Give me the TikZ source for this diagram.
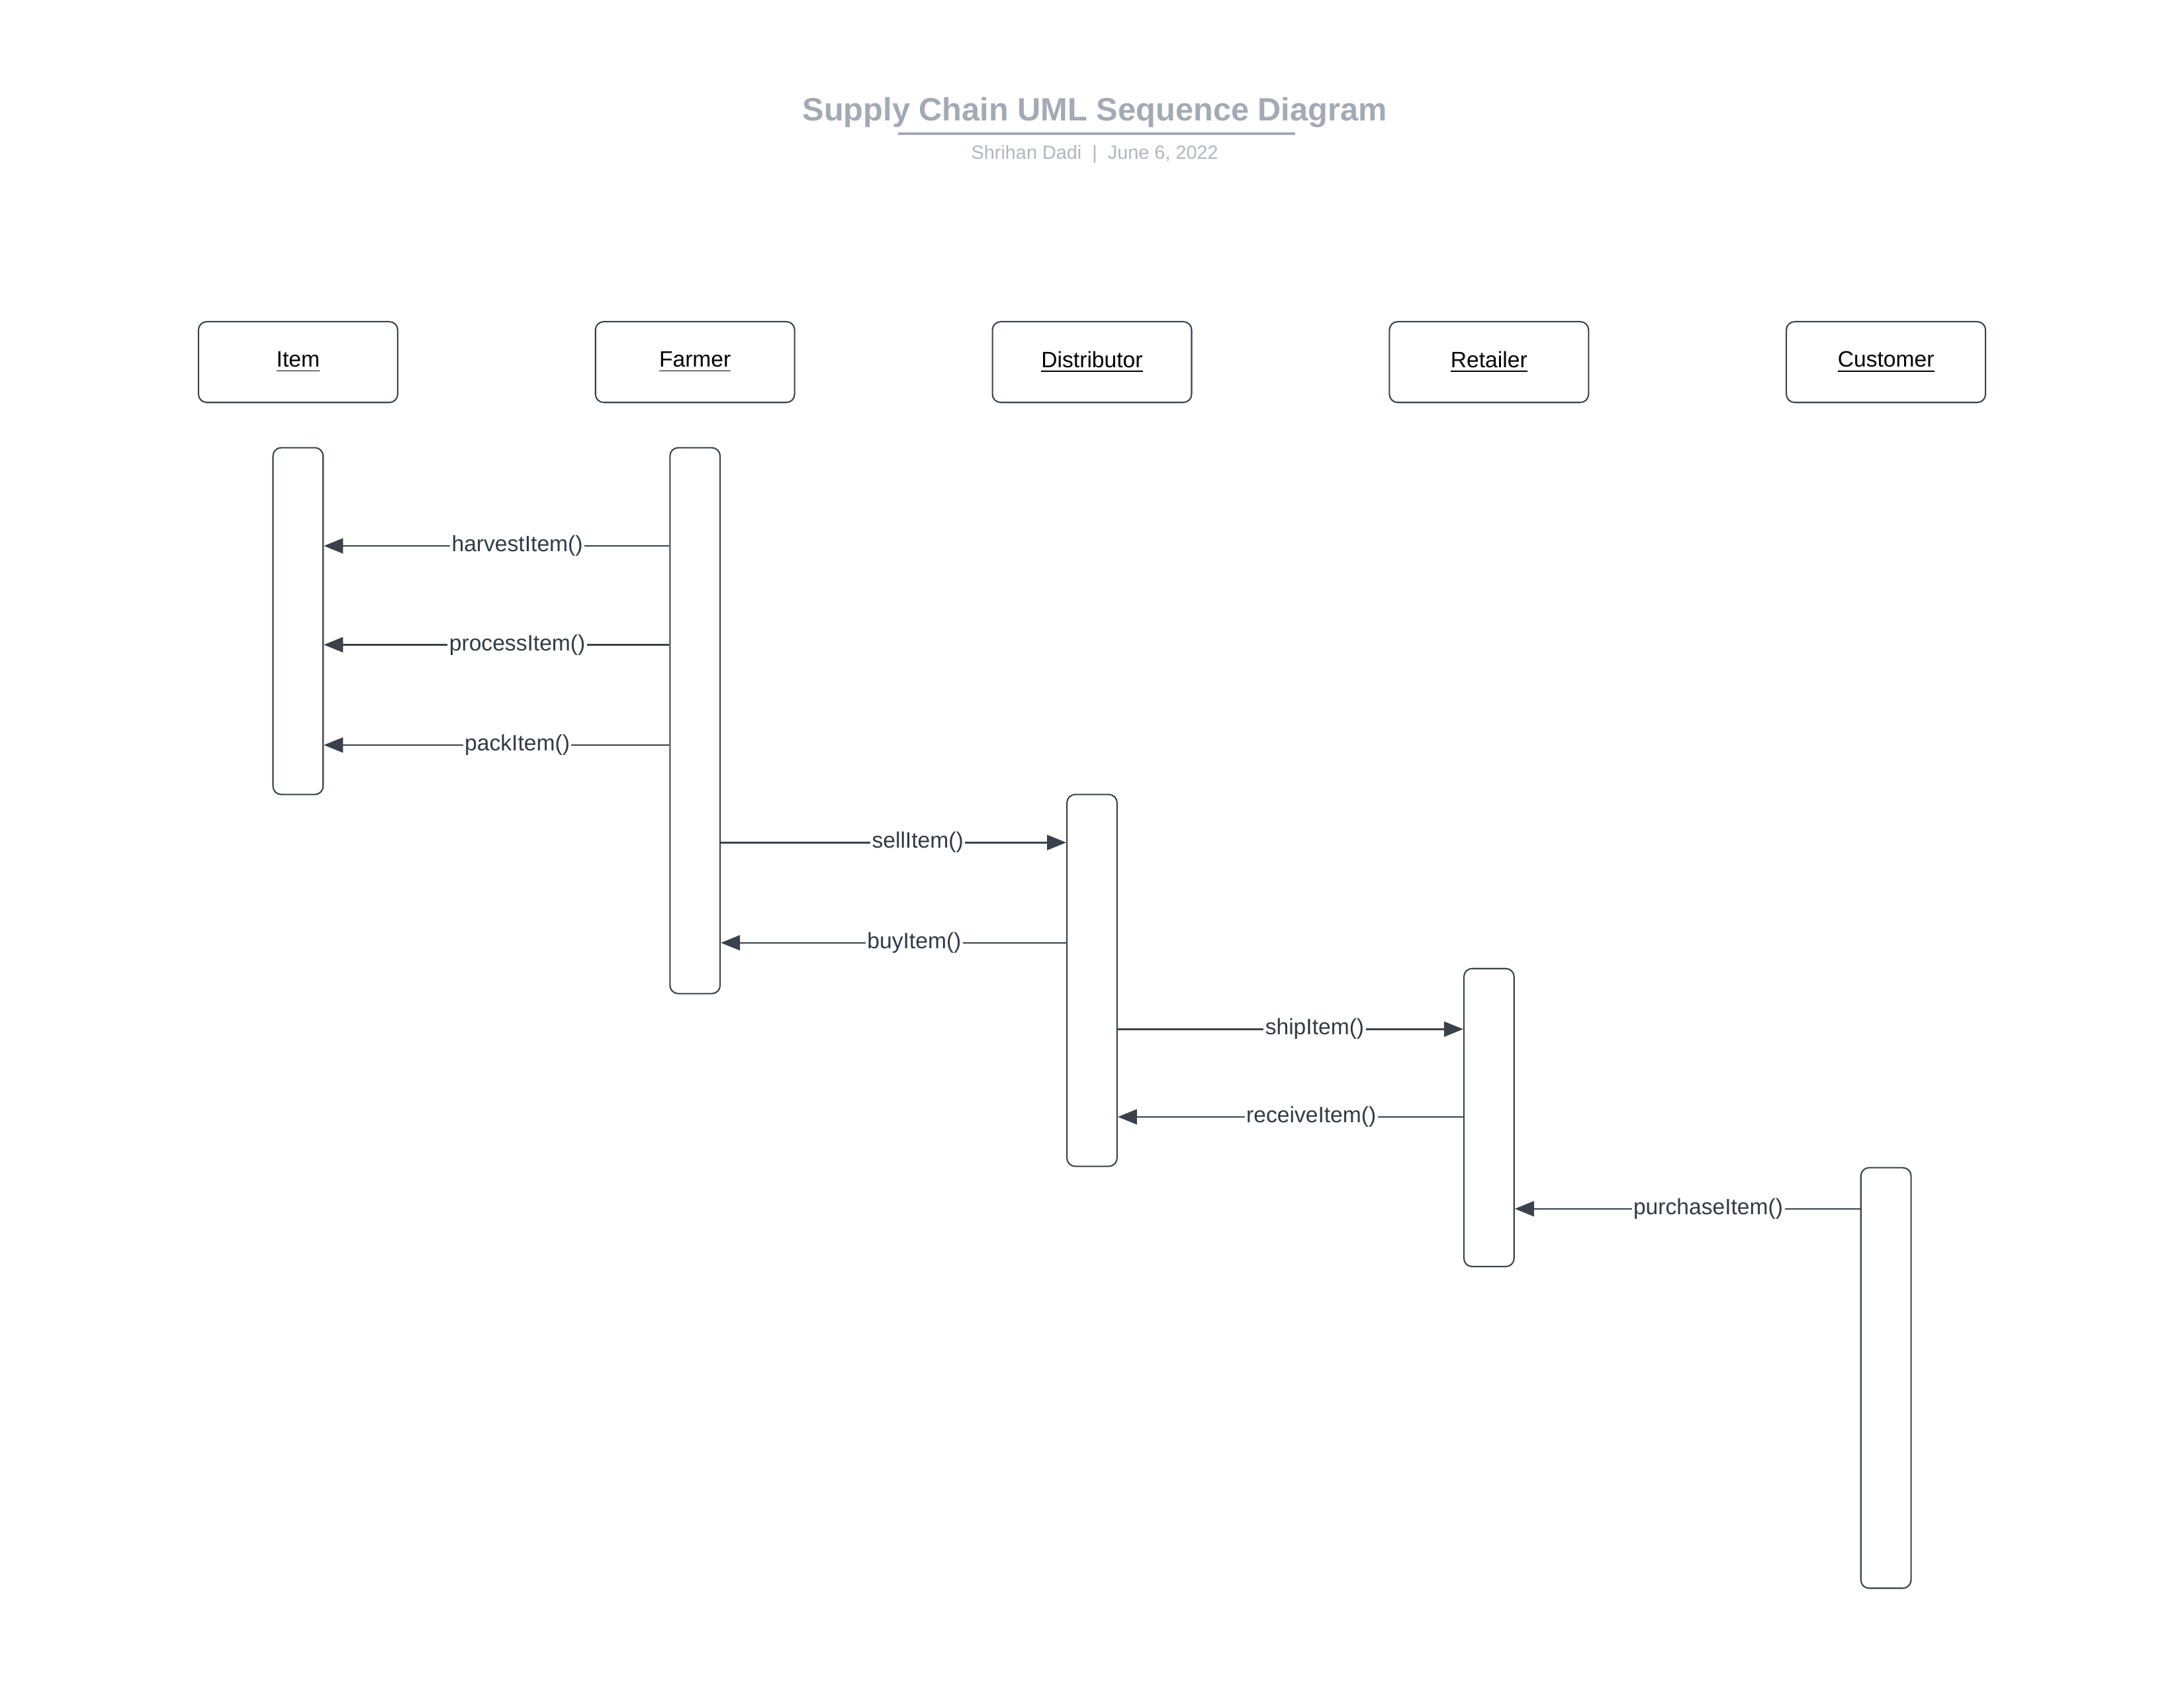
\documentclass[tikz,border=0pt]{standalone}
\usepackage{fontspec}
\setmainfont{Liberation Sans}
\usetikzlibrary{calc}
\usetikzlibrary{arrows.meta}
\definecolor{LucidLine}{HTML}{3A414A}
\definecolor{LucidTitle}{HTML}{A3AAB5}
\definecolor{LucidSub}{HTML}{B0B6BF}
\definecolor{LucidText}{HTML}{333A44}
\newcommand{\dpx}{0.017819cm}

\begin{document}
\begin{tikzpicture}[x=\dpx,y=-\dpx]
    \tikzstyle{obj}=[shape=rectangle,draw=LucidLine,line width=0.5pt,rounded corners=3pt,minimum width=143*\dpx,minimum height=58*\dpx,font=\fontsize{8.1}{10}\selectfont]
    \tikzstyle{act}=[shape=rectangle,draw=LucidLine,line width=0.5pt,rounded corners=3pt,minimum width=36*\dpx,anchor=north,inner sep=0pt]
    \tikzstyle{msg}=[draw=LucidLine,line width=0.6pt,-{Triangle[length=7pt,width=5.5pt]}]
    \tikzstyle{lbl}=[fill=white,text=LucidText,inner sep=0.6pt,font=\fontsize{8.1}{10}\selectfont]

    \useasboundingbox (0,0) rectangle (1568,1212);

    % title
    \node[text=LucidTitle,font=\bfseries\fontsize{11.75}{14}\selectfont] (title) at (786,81) {Supply Chain UML Sequence Diagram};
    \draw[LucidTitle,line width=1pt] (645,96) -- (930,96);
    \node[text=LucidSub,font=\fontsize{6.95}{9}\selectfont] (subtitle) at (786,111) {Shrihan Dadi~~|~~June 6, 2022};

    % item
    \coordinate (item_c) at (214,260);
    \node[obj] (item) at (item_c) {\underline{Item}};
    \node[act,minimum height=249*\dpx] (item_act) at ($(item_c)+(0,61)$) {};

    % farmer
    \coordinate (farmer_c) at ($(item_c)+(285,0)$);
    \node[obj] (farmer) at (farmer_c) {\underline{Farmer}};
    \node[act,minimum height=392*\dpx] (farmer_act) at ($(farmer_c)+(0,61)$) {};

    % distributor
    \coordinate (distributor_c) at ($(farmer_c)+(285,0)$);
    \node[obj] (distributor) at (distributor_c) {\underline{Distributor}};
    \node[act,minimum height=267*\dpx] (distributor_act) at ($(distributor_c)+(0,310)$) {};

    % retailer
    \coordinate (retailer_c) at ($(distributor_c)+(285,0)$);
    \node[obj] (retailer) at (retailer_c) {\underline{Retailer}};
    \node[act,minimum height=214*\dpx] (retailer_act) at ($(retailer_c)+(0,435)$) {};

    % customer
    \coordinate (customer_c) at ($(retailer_c)+(285,0)$);
    \node[obj] (customer) at (customer_c) {\underline{Customer}};
    \node[act,minimum height=302*\dpx] (customer_act) at ($(customer_c)+(0,578)$) {};

    % message levels
    \coordinate (harvest_c) at (0,392);
    \coordinate (process_c) at (0,463);
    \coordinate (pack_c) at (0,535);
    \coordinate (sell_c) at (0,605);
    \coordinate (buy_c) at (0,677);
    \coordinate (ship_c) at (0,739);
    \coordinate (receive_c) at (0,802);
    \coordinate (purchase_c) at (0,868);

    % farmer -> item
    \draw[msg] (farmer_act.west |- harvest_c) -- (item_act.east |- harvest_c) node[lbl,pos=0.44] {harvestItem()};
    \draw[msg] (farmer_act.west |- process_c) -- (item_act.east |- process_c) node[lbl,pos=0.44] {processItem()};
    \draw[msg] (farmer_act.west |- pack_c) -- (item_act.east |- pack_c) node[lbl,pos=0.44] {packItem()};

    % farmer <-> distributor
    \draw[msg] (farmer_act.east |- sell_c) -- (distributor_act.west |- sell_c) node[lbl,pos=0.57] {sellItem()};
    \draw[msg] (distributor_act.west |- buy_c) -- (farmer_act.east |- buy_c) node[lbl,pos=0.44] {buyItem()};

    % distributor <-> retailer
    \draw[msg] (distributor_act.east |- ship_c) -- (retailer_act.west |- ship_c) node[lbl,pos=0.57] {shipItem()};
    \draw[msg] (retailer_act.west |- receive_c) -- (distributor_act.east |- receive_c) node[lbl,pos=0.44] {receiveItem()};

    % customer -> retailer
    \draw[msg] (customer_act.west |- purchase_c) -- (retailer_act.east |- purchase_c) node[lbl,pos=0.44] {purchaseItem()};

\end{tikzpicture}
\end{document}
